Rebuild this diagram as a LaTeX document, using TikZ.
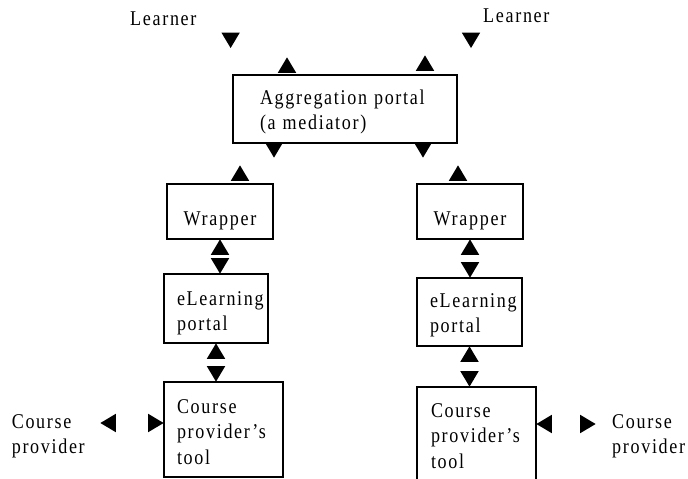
\documentclass[tikz,border=0pt]{standalone}
\usepackage{fontspec}
\setmainfont{Liberation Serif}[FakeStretch=0.86, LetterSpace=8]
\usetikzlibrary{arrows.meta}

\begin{document}
\begin{tikzpicture}[x=1pt, y=-1pt, font=\fontsize{21}{25.5}\selectfont,
  box/.style={draw, line width=1.5pt, anchor=north west, outer sep=0pt, inner ysep=0pt, align=left},
  txt/.style={anchor=base west, inner sep=0pt},
  side/.style={inner xsep=16pt, inner ysep=0pt, text width=72pt, align=left, text height=16pt},
  head/.tip={Triangle[length=16pt, width=19pt, fill=black]},
  link/.style={draw opacity=0, head-head}]
  \path[use as bounding box, fill=white] (0,0) rectangle (688,479);
  \node[txt] (learnerL) at (130,25) {Learner};
  \node[txt] (learnerR) at (483,23) {Learner};
  \node[box, inner xsep=27pt, text width=170pt, text height=29pt, text depth=39pt] (agg) at (233,75) {Aggregation portal\\(a mediator)};
  \node[box, align=center, inner xsep=10pt, text width=86pt, text height=41pt, text depth=14pt] (wrapL) at (167,184) {Wrapper};
  \node[box, align=center, inner xsep=10pt, text width=86pt, text height=41pt, text depth=14pt] (wrapR) at (417,184) {Wrapper};
  \node[box, inner xsep=13pt, text width=78pt, text height=31pt, text depth=38pt] (elearnL) at (164,274) {eLearning\\portal};
  \node[box, inner xsep=13pt, text width=79pt, text height=29pt, text depth=39pt] (elearnR) at (417,278) {eLearning\\portal};
  \node[box, inner xsep=13pt, text width=93pt, text height=31pt, text depth=64pt] (toolL) at (164,382) {Course\\provider's\\tool};
  \node[box, inner xsep=14pt, text width=91pt, text height=30pt, text depth=65pt] (toolR) at (417,387) {Course\\provider's\\tool};
  \node[side, text depth=6pt, anchor=east] (provL) at (100,423) {Course\\provider};
  \node[side, text depth=8pt, anchor=west] (provR) at (596,424) {Course\\provider};
  % only the heads of these links show
  \draw[link] (provL.east) -- (provL.east -| toolL.west);
  \draw[link] (toolR.east |- provR.west) -- (provR.west);
  \draw[link] (wrapL.south) -- (wrapL.south |- elearnL.north);
  \draw[link] (elearnL.south) -- (elearnL.south |- toolL.north);
  \draw[link] (wrapR.south) -- (wrapR.south |- elearnR.north);
  \draw[link] (elearnR.south) -- (elearnR.south |- toolR.north);
  \draw[link] ([shift={(34,23)}]learnerL.south east) .. controls +(0,-30) and +(0,40) .. ([shift={(54,-18)}]agg.north west);
  \draw[link] ([shift={(-12,25)}]learnerR.south west) .. controls +(0,-30) and +(0,40) .. ([shift={(-32,-20)}]agg.north east);
  \draw[link] ([shift={(41,15)}]agg.south west) .. controls +(0,-30) and +(0,40) .. ([shift={(-33,-19)}]wrapL.north east);
  \draw[link] ([shift={(-34,15)}]agg.south east) .. controls +(0,-30) and +(0,40) .. ([shift={(41,-19)}]wrapR.north west);
\end{tikzpicture}
\end{document}
